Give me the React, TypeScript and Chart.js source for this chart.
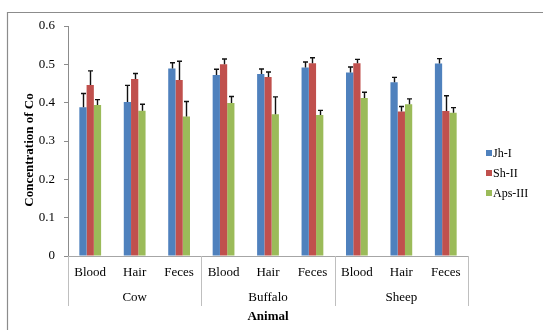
import React, { useEffect, useRef } from 'react';
import { Chart, registerables } from 'chart.js';

Chart.register(...registerables);

const samples = ['Blood', 'Hair', 'Feces', 'Blood', 'Hair', 'Feces', 'Blood', 'Hair', 'Feces'];
const animals = ['Cow', 'Buffalo', 'Sheep'];
const seriesNames = ['Jh-I', 'Sh-II', 'Aps-III'];
const seriesColors = ['#4F81BD', '#C0504D', '#9BBB59'];

const jhI = [0.388, 0.402, 0.489, 0.472, 0.475, 0.492, 0.479, 0.453, 0.502];
const jhIErr = [0.036, 0.043, 0.015, 0.015, 0.013, 0.014, 0.014, 0.013, 0.013];
const shII = [0.446, 0.462, 0.459, 0.5, 0.467, 0.503, 0.503, 0.377, 0.378];
const shIIErr = [0.037, 0.014, 0.049, 0.014, 0.013, 0.014, 0.01, 0.013, 0.04];
const apsIII = [0.394, 0.379, 0.364, 0.399, 0.37, 0.368, 0.412, 0.396, 0.374];
const apsIIIErr = [0.014, 0.017, 0.039, 0.017, 0.045, 0.012, 0.015, 0.014, 0.013];

const yMin = 0;
const yMax = 0.6;
const yStep = 0.1;

const yTitle = 'Concentration of Co';
const xTitle = 'Animal';

const FONT = '"Liberation Serif", "Times New Roman", serif';

const seriesValues = [jhI, shII, apsIII];
const seriesErrors = [jhIErr, shIIErr, apsIIIErr];

const decorPlugin = {
  id: 'decor',
  beforeDraw(chart: any) {
    const { ctx, width, height } = chart;
    ctx.save();
    ctx.strokeStyle = '#8c8c8c';
    ctx.lineWidth = 1.2;
    ctx.beginPath();
    ctx.moveTo(7.5, height);
    ctx.lineTo(7.5, 12.5);
    ctx.lineTo(width, 12.5);
    ctx.stroke();
    ctx.restore();
  },
  afterDatasetsDraw(chart: any) {
    const { ctx } = chart;
    const yScale = chart.scales.y;
    ctx.save();
    ctx.strokeStyle = '#111';
    ctx.lineWidth = 1.4;
    seriesValues.forEach((vals, d) => {
      const meta = chart.getDatasetMeta(d);
      meta.data.forEach((bar: any, i: number) => {
        const x = Math.round(bar.x) + 0.5;
        const y0 = bar.y;
        const y1 = yScale.getPixelForValue(vals[i] + seriesErrors[d][i]);
        ctx.beginPath();
        ctx.moveTo(x, y0);
        ctx.lineTo(x, y1);
        ctx.moveTo(x - 2.5, y1);
        ctx.lineTo(x + 2.5, y1);
        ctx.stroke();
      });
    });
    ctx.restore();
  },
  afterDraw(chart: any) {
    const { ctx, chartArea } = chart;
    const { left, right, top, bottom } = chartArea;
    const w = (right - left) / samples.length;
    ctx.save();
    // group separators
    ctx.strokeStyle = '#bfbfbf';
    ctx.lineWidth = 1;
    for (let k = 0; k <= animals.length; k++) {
      const x = Math.round(left + k * 3 * w) + 0.5;
      ctx.beginPath();
      ctx.moveTo(x, bottom);
      ctx.lineTo(x, bottom + 50);
      ctx.stroke();
    }
    // group labels
    ctx.fillStyle = '#000';
    ctx.font = `13px ${FONT}`;
    ctx.textAlign = 'center';
    ctx.textBaseline = 'middle';
    animals.forEach((a, k) => {
      const x = left + (k * 3 + 1.5) * w;
      ctx.fillText(a, x, bottom + 42);
    });
    // x title
    ctx.font = `bold 13px ${FONT}`;
    ctx.fillText(xTitle, (left + right) / 2, bottom + 61);
    // y title
    ctx.save();
    ctx.translate(30, 150);
    ctx.rotate(-Math.PI / 2);
    ctx.fillText(yTitle, 0, 0);
    ctx.restore();
    // legend
    ctx.font = `12px ${FONT}`;
    ctx.textAlign = 'left';
    seriesNames.forEach((n, d) => {
      const cy = 153 + d * 20;
      ctx.fillStyle = seriesColors[d];
      ctx.fillRect(486, cy - 3, 6, 6);
      ctx.fillStyle = '#000';
      ctx.fillText(n, 493, cy + 0.5);
    });
    ctx.restore();
  },
};

export default function App() {
  const ref = useRef<HTMLCanvasElement | null>(null);
  useEffect(() => {
    if (!ref.current) return;
    const chart = new Chart(ref.current, {
      type: 'bar',
      data: {
        labels: samples,
        datasets: seriesNames.map((n, d) => ({
          label: n,
          data: seriesValues[d],
          backgroundColor: seriesColors[d],
          borderWidth: 0,
          categoryPercentage: 0.49,
          barPercentage: 1.0,
        })),
      },
      options: {
        animation: false,
        responsive: false,
        maintainAspectRatio: false,
        layout: { padding: { left: 0, top: 26, right: 75, bottom: 0 } },
        plugins: {
          legend: { display: false },
          tooltip: { enabled: false },
          title: { display: false },
        },
        scales: {
          x: {
            grid: { display: false, drawTicks: false },
            border: { display: true, color: '#a6a6a6', width: 1 },
            ticks: {
              autoSkip: false,
              maxRotation: 0,
              minRotation: 0,
              padding: 9,
              color: '#000',
              font: { family: FONT, size: 13 },
            },
            afterFit: (scale: any) => {
              scale.height = 74;
            },
          },
          y: {
            min: yMin,
            max: yMax,
            grid: { display: true, drawOnChartArea: false, drawTicks: true, tickLength: 4, color: '#8c8c8c' },
            border: { display: true, color: '#8c8c8c', width: 1 },
            ticks: {
              stepSize: yStep,
              padding: 9,
              color: '#000',
              font: { family: FONT, size: 13 },
            },
            afterFit: (scale: any) => {
              scale.width = 68;
            },
          },
        },
      },
      plugins: [decorPlugin],
    });
    return () => chart.destroy();
  }, []);
  return (
    <div style={{ position: 'absolute', left: 0, top: 0, width: 543, height: 330, background: '#fff' }}>
      <canvas ref={ref} width={543} height={330} style={{ display: 'block', width: 543, height: 330 }} />
    </div>
  );
}
